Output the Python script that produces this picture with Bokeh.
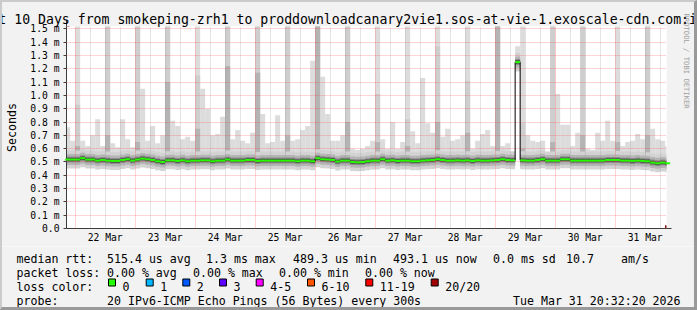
import numpy as np
import pandas as pd
from bokeh.plotting import figure
from bokeh.layouts import column
from bokeh.core.properties import value
from bokeh.models import (Range1d, FixedTicker, CustomJSTickFormatter, DatetimeTickFormatter,
                          Grid, Title, Arrow, NormalHead, ColumnDataSource, InlineStyleSheet)
from bokeh.embed import file_html
from bokeh.resources import INLINE

# ---------------- data ----------------
first_bin_start = "2026-03-21 20:00"
bin_hours = 2
view_start = "2026-03-21 20:32:20"
view_end = "2026-03-31 20:32:20"

median_ms = [
    0.518, 0.518, 0.518, 0.528, 0.518, 0.518, 0.510, 0.515, 0.510, 0.508,
    0.508, 0.515, 0.520, 0.510, 0.518, 0.525, 0.520, 0.515, 0.505, 0.500,
    0.512, 0.512, 0.508, 0.512, 0.505, 0.510, 0.510, 0.512, 0.512, 0.505,
    0.510, 0.510, 0.518, 0.510, 0.510, 0.510, 0.515, 0.515, 0.508, 0.510,
    0.510, 0.510, 0.510, 0.510, 0.510, 0.510, 0.505, 0.510, 0.510, 0.505,
    0.528, 0.520, 0.518, 0.515, 0.503, 0.510, 0.510, 0.500, 0.497, 0.500,
    0.505, 0.510, 0.510, 0.520, 0.510, 0.512, 0.508, 0.510, 0.510, 0.505,
    0.505, 0.510, 0.512, 0.515, 0.520, 0.515, 0.510, 0.510, 0.512, 0.510,
    0.512, 0.508, 0.512, 0.510, 0.510, 0.512, 0.515, 0.520, 0.515, 0.512,
    1.250, 0.512, 0.510, 0.510, 0.515, 0.520, 0.510, 0.510, 0.510, 0.520,
    0.520, 0.510, 0.510, 0.510, 0.510, 0.510, 0.510, 0.510, 0.515, 0.515,
    0.515, 0.510, 0.510, 0.508, 0.510, 0.508, 0.505, 0.495, 0.490, 0.495, 0.490,
]
low_ms = [
    0.47, 0.47, 0.47, 0.48, 0.47, 0.47, 0.46, 0.47, 0.46, 0.46,
    0.46, 0.47, 0.47, 0.46, 0.47, 0.48, 0.47, 0.46, 0.46, 0.45,
    0.46, 0.46, 0.46, 0.46, 0.46, 0.46, 0.46, 0.46, 0.46, 0.46,
    0.46, 0.46, 0.47, 0.46, 0.46, 0.46, 0.47, 0.47, 0.46, 0.46,
    0.46, 0.46, 0.46, 0.46, 0.46, 0.46, 0.46, 0.46, 0.46, 0.46,
    0.48, 0.47, 0.47, 0.47, 0.46, 0.46, 0.46, 0.45, 0.45, 0.45,
    0.46, 0.46, 0.46, 0.47, 0.46, 0.46, 0.46, 0.46, 0.46, 0.46,
    0.46, 0.46, 0.46, 0.47, 0.47, 0.47, 0.46, 0.46, 0.46, 0.46,
    0.46, 0.46, 0.46, 0.46, 0.46, 0.46, 0.47, 0.47, 0.47, 0.46,
    1.18, 0.46, 0.46, 0.46, 0.47, 0.47, 0.46, 0.46, 0.46, 0.47,
    0.47, 0.46, 0.46, 0.46, 0.46, 0.46, 0.46, 0.46, 0.47, 0.47,
    0.47, 0.46, 0.46, 0.46, 0.46, 0.46, 0.46, 0.45, 0.44, 0.45, 0.44,
]
top_ms = [
    0.76, 0.66, 2.00, 0.66, 0.62, 0.70, 0.82, 0.62, 2.00, 0.64,
    0.61, 0.82, 0.67, 0.61, 2.00, 1.05, 0.66, 0.77, 0.64, 0.70,
    2.00, 0.81, 0.77, 0.67, 0.69, 0.66, 2.00, 1.05, 0.90, 0.70,
    0.71, 0.84, 2.00, 0.67, 0.74, 0.66, 0.64, 0.72, 2.00, 0.86,
    0.64, 0.65, 0.85, 0.66, 2.00, 0.66, 0.67, 0.74, 0.77, 1.26,
    2.00, 1.14, 0.86, 0.66, 0.66, 0.70, 2.00, 0.60, 0.59, 0.60,
    0.62, 0.66, 2.00, 0.67, 0.60, 0.80, 0.60, 0.65, 2.00, 0.73,
    0.64, 1.13, 0.79, 0.72, 2.00, 0.69, 0.75, 0.66, 0.67, 0.70,
    2.00, 0.60, 0.66, 0.71, 0.74, 0.62, 2.00, 0.62, 0.64, 0.55,
    1.37, 2.00, 0.70, 0.66, 0.65, 0.66, 0.55, 2.00, 1.01, 0.78,
    0.78, 0.62, 0.72, 2.00, 0.60, 0.59, 0.72, 0.66, 0.81, 0.66,
    2.00, 0.62, 0.65, 0.66, 0.71, 0.67, 2.00, 0.75, 0.67, 0.66, 0.62,
]
spike_bins = [2, 8, 14, 20, 26, 32, 38, 44, 50, 56, 62, 68, 74, 80, 86, 91, 97, 103, 110, 116]
spike_mid_ms = [0.93, 2.0, 2.0, 2.0, 1.15, 2.0, 2.0, 2.0, 2.0, 2.0,
                1.01, 0.82, 1.37, 1.11, 2.0, 0.79, 2.0, 2.0, 1.00, 2.0]
spike_dark_ms = [0.62, 0.70, 0.65, 1.10, 0.75, 1.22, 1.17, 0.70, 2.0, 0.80,
                 0.65, 0.62, 0.80, 0.72, 2.0, 0.60, 0.65, 0.70, 0.65, 0.70]

y_ticks = [0.0, 0.1, 0.2, 0.3, 0.4, 0.5, 0.6, 0.7, 0.8, 0.9, 1.0, 1.1, 1.2, 1.3, 1.4, 1.5]
day_labels = ["22 Mar", "23 Mar", "24 Mar", "25 Mar", "26 Mar",
              "27 Mar", "28 Mar", "29 Mar", "30 Mar", "31 Mar"]

loss_labels = ["0", "1", "2", "3", "4-5", "6-10", "11-19", "20/20"]
loss_colors = ["#26ff00", "#00b8ff", "#0059ff", "#5e00ff", "#ff00ff", "#ff5500", "#ff0000", "#a10000"]

title_text = "Last 10 Days from smokeping-zrh1 to proddownloadcanary2vie1.sos-at-vie-1.exoscale-cdn.com:i"
watermark = "RRDTOOL / TOBI OETIKER"
legend_rows = [
    [(16, "median rtt:"), (106.5, "515.4 us avg"), (205.5, "1.3 ms max"), (292.5, "489.3 us min"),
     (392.5, "493.1 us now"), (492.5, "0.0 ms sd"), (565.5, "10.7"), (620.5, "am/s")],
    [(16, "packet loss:"), (106.5, "0.00 % avg"), (192.5, "0.00 % max"), (278.5, "0.00 % min"),
     (364.5, "0.00 % now")],
    [(16, "loss color:")],
    [(16, "probe:"), (106.5, "20 IPv6-ICMP Echo Pings (56 Bytes) every 300s"),
     (512.5, "Tue Mar 31 20:32:20 2026")],
]
legend_baselines = [258, 272, 286, 300]
loss_box_x = [108, 145.7, 182.3, 219, 255.7, 307, 365.3, 430.7]

# ---------------- derived time coordinates ----------------
n = len(median_ms)
bin_start = pd.date_range(first_bin_start, periods=n, freq=f"{bin_hours}h")
bin_end = bin_start + pd.Timedelta(hours=bin_hours)
t0 = pd.Timestamp(view_start)
t1 = pd.Timestamp(view_end)


def ms(ts):
    return int(pd.Timestamp(ts).value // 10**6)


noon_ticks = [ms(t) for t in pd.date_range("2026-03-22 12:00", periods=len(day_labels), freq="D")]
midnight_ticks = [ms(t) for t in pd.date_range("2026-03-22 00:00", "2026-03-31 00:00", freq="D")]
six_h_ticks = [ms(t) for t in pd.date_range("2026-03-22 06:00", "2026-03-31 18:00", freq="6h")
               if t.hour != 0]

MONO = "DejaVu Sans Mono"
AXIS = "#3c3c3c"
BACK = "#f2f2f2"

# ---------------- main chart ----------------
p = figure(width=697, height=246, x_axis_type="datetime",
           x_range=Range1d(t0, t1), y_range=Range1d(0, 1.5176),
           output_backend="svg", toolbar_location=None, title=title_text,
           min_border_left=66, min_border_right=31, min_border_top=26, min_border_bottom=18,
           background_fill_color="white", border_fill_color=BACK)
p.outline_line_color = None
p.frame_align = False

p.title.align = "left"
p.title.offset = -92
p.title.standoff = 0
p.title.text_font = MONO
p.title.text_font_size = "13.2px"
p.title.text_font_style = "normal"
p.title.text_color = "black"

# spacer panel, then the vertical watermark
p.add_layout(Title(text=" ", text_font_size="2px", standoff=10, text_color=BACK), "right")
p.add_layout(Title(text=watermark, align="left", offset=-13, standoff=2, vertical_align="bottom",
                   text_font=MONO, text_font_size="7.2px", text_font_style="normal",
                   text_color="#a0a0a0"), "right")

# axes
p.xaxis.ticker = FixedTicker(ticks=noon_ticks)
p.xaxis.formatter = DatetimeTickFormatter(days="%d %b", hours="%d %b", months="%d %b")
p.xaxis.major_label_overrides = {t: lab for t, lab in zip(noon_ticks, day_labels)}
p.xaxis.major_tick_line_color = None
p.xaxis.major_tick_out = 0
p.xaxis.major_tick_in = 0
p.xaxis.minor_tick_line_color = None
p.xaxis.minor_tick_out = 0
p.xaxis.major_label_standoff = 3
p.yaxis.ticker = FixedTicker(ticks=y_ticks)
p.yaxis.formatter = CustomJSTickFormatter(code="return tick < 0.05 ? '0.0' : tick.toFixed(1) + ' m';")
p.yaxis.major_tick_out = 3
p.yaxis.major_tick_in = 0
p.yaxis.major_tick_line_color = AXIS
p.yaxis.minor_tick_line_color = None
p.yaxis.major_label_standoff = 4
p.yaxis.axis_label = "Seconds"
p.yaxis.axis_label_text_font = MONO
p.yaxis.axis_label_text_font_size = "11.6px"
p.yaxis.axis_label_text_font_style = "normal"
p.yaxis.axis_label_text_color = "black"
p.yaxis.axis_label_standoff = 8
for ax in (p.xaxis, p.yaxis):
    ax.axis_line_color = AXIS
    ax.major_label_text_font = MONO
    ax.major_label_text_font_size = "9.7px"
    ax.major_label_text_color = "black"

# grids (drawn over the smoke, like rrdtool)
p.xgrid.ticker = FixedTicker(ticks=midnight_ticks)
p.xgrid.grid_line_color = "#ff4040"
p.xgrid.grid_line_alpha = 0.45
p.xgrid.grid_line_dash = "1 1"
p.xgrid.level = "guide"
p.ygrid.ticker = FixedTicker(ticks=y_ticks[1:])
p.ygrid.grid_line_color = "#ff4040"
p.ygrid.grid_line_alpha = 0.45
p.ygrid.grid_line_dash = "1 1"
p.ygrid.level = "guide"
p.add_layout(Grid(dimension=0, ticker=FixedTicker(ticks=six_h_ticks), grid_line_color="#808080",
                  grid_line_alpha=0.4, grid_line_dash="1 1", level="guide"), "center")

# smoke
src = ColumnDataSource(dict(left=bin_start, right=bin_end, low=low_ms, top=top_ms, med=median_ms))
p.quad(left="left", right="right", bottom="low", top="top", source=src,
       fill_color="#dcdcdc", line_color=None)
sp = ColumnDataSource(dict(
    left=[bin_start[i] for i in spike_bins], right=[bin_end[i] for i in spike_bins],
    low=[low_ms[i] for i in spike_bins], mid=spike_mid_ms, dark=spike_dark_ms))
p.quad(left="left", right="right", bottom="low", top="mid", source=sp,
       fill_color="#cecece", line_color=None)
p.quad(left="left", right="right", bottom="low", top="dark", source=sp,
       fill_color="#b4b4b4", line_color=None)
for w, c in [(18, "#d2d2d2"), (11, "#b4b4b4"), (6, "#8c8c8c"), (3.5, "#4a4a4a")]:
    p.segment(x0="left", y0="med", x1="right", y1="med", source=src,
              line_width=w, line_color=c, line_cap="butt")

# median line: black risers + loss-coloured treads
conn = ColumnDataSource(dict(x=bin_end[:-1], y0=median_ms[:-1], y1=median_ms[1:]))
r = p.segment(x0="x", y0="y0", x1="x", y1="y1", source=conn, line_color="black", line_width=1)
r.level = "annotation"
r = p.segment(x0="left", y0="med", x1="right", y1="med", source=src,
              line_width=2, line_color=loss_colors[0], line_cap="butt")
r.level = "annotation"

# axis arrows
head_c = "#8b1a1a"
p.add_layout(Arrow(end=NormalHead(size=6, fill_color=head_c, line_color=head_c),
                   x_start=ms(t0), y_start=1.50, x_end=ms(t0), y_end=1.565,
                   line_color=AXIS, line_width=1))
p.add_layout(Arrow(end=NormalHead(size=6, fill_color=head_c, line_color=head_c),
                   x_start=ms(t1) - 3600e3, y_start=0, x_end=ms(t1) + 2.0 * 3600e3, y_end=0,
                   line_color=AXIS, line_width=1))

# ---------------- legend strip (pixel-space figure) ----------------
q = figure(width=697, height=64, x_range=Range1d(0, 697), y_range=Range1d(310, 246),
           output_backend="svg", toolbar_location=None, min_border=0,
           min_border_left=0, min_border_right=0, min_border_top=0, min_border_bottom=0,
           x_axis_location=None, y_axis_location=None,
           background_fill_color=BACK, border_fill_color=BACK)
q.grid.visible = False
q.outline_line_color = None
q.frame_align = False

tx, ty, tt = [], [], []
for row, yb in zip(legend_rows, legend_baselines):
    for x, txt in row:
        tx.append(x)
        ty.append(yb)
        tt.append(txt)
for bx, lab in zip(loss_box_x, loss_labels):
    tx.append(bx + 14)
    ty.append(legend_baselines[2])
    tt.append(lab)
q.text(x=tx, y=ty, text=tt, text_font=value(MONO), text_font_size=value("11.6px"),
       text_color="black", text_align="left", text_baseline="alphabetic")
q.quad(left=loss_box_x, right=[b + 7 for b in loss_box_x],
       top=[278.5] * len(loss_box_x), bottom=[285.5] * len(loss_box_x),
       fill_color=loss_colors, line_color="black", line_width=1)

# rrdtool-style 3D frame around the whole image (pure CSS overlay)
frame_css = InlineStyleSheet(css="""
:host { position: relative; }
:host::after {
  content: ""; position: absolute; left: 0; top: 0; width: 697px; height: 310px;
  box-sizing: border-box; pointer-events: none; z-index: 50;
  border-top: 2px solid #cbcbcb; border-left: 2px solid #cbcbcb;
  border-right: 3px solid #999999; border-bottom: 3px solid #999999;
}
""")
layout = column(p, q, spacing=0, stylesheets=[frame_css])
open("out.html", "w").write(file_html(layout, INLINE))
